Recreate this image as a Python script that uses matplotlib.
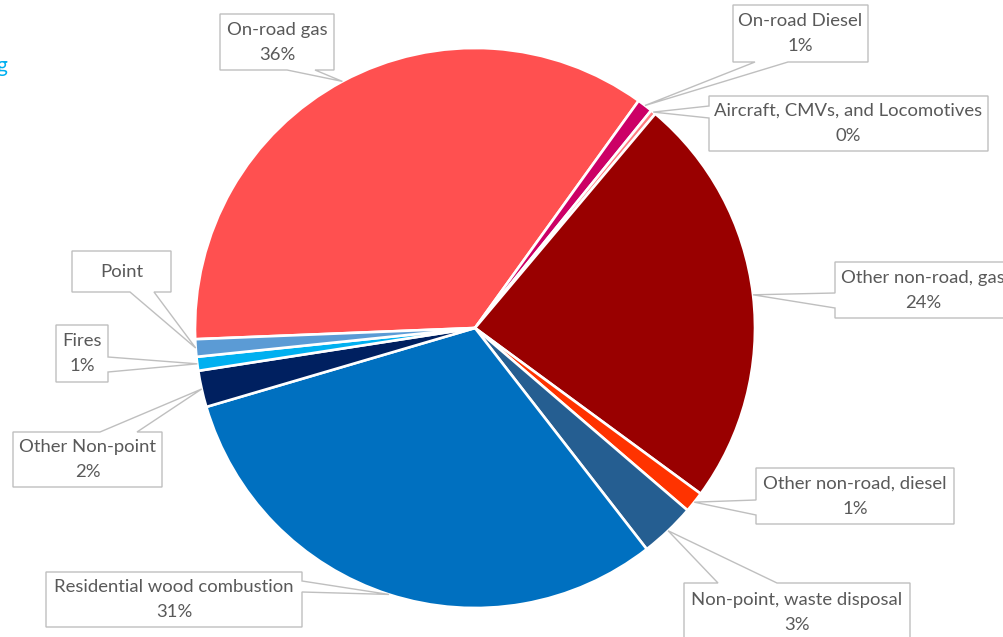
import numpy as np
import matplotlib
matplotlib.use("Agg")
import matplotlib.pyplot as plt
from matplotlib.patches import Polygon

W, H = 1004, 637

# slices, clockwise from the left edge of the pie
labels = ["On-road gas", "On-road Diesel", "Aircraft, CMVs, and Locomotives",
          "Other non-road, gas", "Other non-road, diesel", "Non-point, waste disposal",
          "Residential wood combustion", "Other Non-point", "Fires", "Point"]
values = [35.5, 0.9, 0.3, 23.9, 1.2, 3.2, 30.9, 2.1, 0.8, 1.0]
colors = ["#FF5050", "#CC0066", "#FF7C80", "#990000", "#FF3300", "#255E91",
          "#0070C0", "#002060", "#00B0F0", "#5B9BD5"]
show_pct = [True, True, True, True, True, True, True, True, True, False]

# callout boxes in pixel coords (x0, y0, x1, y1), pointer side and base
boxes = [
    ((220, 14, 334, 70), "bottom", (287, 315)),
    ((733, 5, 868, 62), "bottom", (755, 788)),
    ((709, 96, 988, 151), "left", (106, 118)),
    ((835, 262, 1011, 318), "left", (293, 308)),
    ((756, 468, 954, 524), "left", (500, 515)),
    ((684, 583, 910, 642), "top", (718, 777)),
    ((46, 572, 302, 627), "right", (581, 592)),
    ((13, 432, 162, 487), "top", (100, 137)),
    ((56, 325, 108, 382), "right", (357, 372)),
    ((72, 251, 171, 292), "bottom", (130, 154)),
]

FONT = ["Lato", "DejaVu Sans"]
FS = 13.3
TXT = "#595959"
EDGE = "#BFBFBF"


def fy(y):
    return H - y


fig = plt.figure(figsize=(W / 100, H / 100), dpi=100)
ax = fig.add_axes([0, 0, 1, 1])
ax.set_xlim(0, W)
ax.set_ylim(0, H)
ax.set_aspect("equal")
ax.axis("off")

cx, cy, R = 475, fy(328), 280
wedges, _ = ax.pie(values, colors=colors, startangle=182.3, counterclock=False,
                   center=(cx, cy), radius=R, frame=True,
                   wedgeprops=dict(edgecolor="white", linewidth=1.9))
ax.set_xlim(0, W)
ax.set_ylim(0, H)
ax.axis("off")

total = sum(values)
for i, w in enumerate(wedges):
    mid = np.deg2rad((w.theta1 + w.theta2) / 2)
    apex = (cx + R * np.cos(mid), cy + R * np.sin(mid))
    (x0, y0, x1, y1), side, (b0, b1) = boxes[i]
    pts = [(x0, y0)]
    if side == "top":
        pts += [(b0, y0), "A", (b1, y0)]
    pts.append((x1, y0))
    if side == "right":
        pts += [(x1, b0), "A", (x1, b1)]
    pts.append((x1, y1))
    if side == "bottom":
        pts += [(b1, y1), "A", (b0, y1)]
    pts.append((x0, y1))
    if side == "left":
        pts += [(x0, b1), "A", (x0, b0)]
    verts = [apex if p == "A" else (p[0], fy(p[1])) for p in pts]
    ax.add_patch(Polygon(verts, closed=True, facecolor="white", edgecolor=EDGE,
                         linewidth=1.0, zorder=5))
    xc = (x0 + x1) / 2
    yc = (y0 + y1) / 2
    if show_pct[i]:
        pct = "%d%%" % round(values[i] / total * 100)
        ax.text(xc, fy(yc - 12.5), labels[i], ha="center", va="center",
                fontsize=FS, color=TXT, family=FONT, zorder=6)
        ax.text(xc, fy(yc + 12.5), pct, ha="center", va="center",
                fontsize=FS, color=TXT, family=FONT, zorder=6)
    else:
        ax.text(xc, fy(yc), labels[i], ha="center", va="center",
                fontsize=FS, color=TXT, family=FONT, zorder=6)

# title fragment cut off at the left edge (as in the source image)
ax.text(7, fy(66), "g", ha="right", va="center", fontsize=15,
        color="#00B0F0", family=FONT)

fig.savefig("out.png", dpi=100)
